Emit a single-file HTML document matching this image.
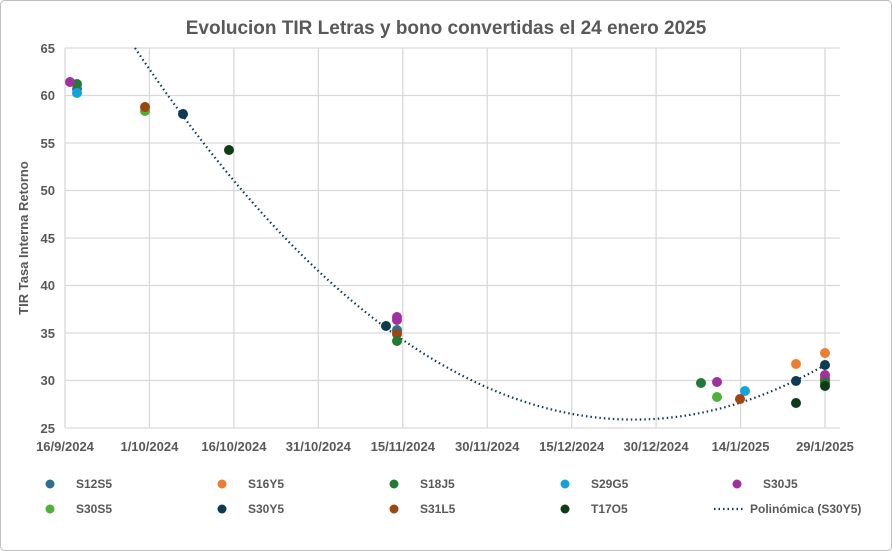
<!DOCTYPE html>
<html><head><meta charset="utf-8"><style>
html,body{margin:0;padding:0;background:#fff;}
svg{display:block;font-family:"Liberation Sans",sans-serif;}
</style></head><body>
<svg width="892" height="551" viewBox="0 0 892 551">
<rect x="0.5" y="0.5" width="891" height="550" rx="4" fill="#fff" stroke="#bfbfbf"/>
<text x="446" y="34" text-anchor="middle" font-size="19" font-weight="bold" fill="#595959">Evolucion TIR Letras y bono convertidas  el 24 enero 2025</text>
<g stroke="#d9d9d9" stroke-width="1.3">
<line x1="65" y1="48" x2="840" y2="48"/><line x1="65" y1="95.5" x2="840" y2="95.5"/><line x1="65" y1="143" x2="840" y2="143"/><line x1="65" y1="190.5" x2="840" y2="190.5"/><line x1="65" y1="238" x2="840" y2="238"/><line x1="65" y1="285.5" x2="840" y2="285.5"/><line x1="65" y1="333" x2="840" y2="333"/><line x1="65" y1="380.5" x2="840" y2="380.5"/><line x1="65" y1="428" x2="840" y2="428"/>
<line x1="65" y1="48" x2="65" y2="428"/><line x1="149.4" y1="48" x2="149.4" y2="428"/><line x1="233.9" y1="48" x2="233.9" y2="428"/><line x1="318.3" y1="48" x2="318.3" y2="428"/><line x1="402.8" y1="48" x2="402.8" y2="428"/><line x1="487.2" y1="48" x2="487.2" y2="428"/><line x1="571.7" y1="48" x2="571.7" y2="428"/><line x1="656.1" y1="48" x2="656.1" y2="428"/><line x1="740.6" y1="48" x2="740.6" y2="428"/><line x1="825" y1="48" x2="825" y2="428"/>
</g>
<g font-size="13" fill="#595959" text-anchor="end" font-weight="bold">
<text x="55" y="53">65</text><text x="55" y="100">60</text><text x="55" y="148">55</text><text x="55" y="195">50</text><text x="55" y="243">45</text><text x="55" y="290">40</text><text x="55" y="338">35</text><text x="55" y="385">30</text><text x="55" y="433">25</text>
</g>
<g font-size="13" fill="#595959" text-anchor="middle" font-weight="bold">
<text x="65" y="451">16/9/2024</text><text x="149.4" y="451">1/10/2024</text><text x="233.9" y="451">16/10/2024</text><text x="318.3" y="451">31/10/2024</text><text x="402.8" y="451">15/11/2024</text><text x="487.2" y="451">30/11/2024</text><text x="571.7" y="451">15/12/2024</text><text x="656.1" y="451">30/12/2024</text><text x="740.6" y="451">14/1/2025</text><text x="825" y="451">29/1/2025</text>
</g>
<text transform="translate(28,238) rotate(-90)" text-anchor="middle" font-size="13" font-weight="bold" fill="#595959">TIR Tasa Interna Retorno</text>
<path d="M135,48 Q480,562 825,365" fill="none" stroke="#0e3a52" stroke-width="2.2" stroke-dasharray="1.5 3"/>
<g>
<circle cx="77" cy="89" r="5" fill="#2e6e8e"/>
<circle cx="77" cy="84" r="5" fill="#217a35"/>
<circle cx="70" cy="82" r="5" fill="#a0309e"/>
<circle cx="77" cy="93" r="5" fill="#12a3de"/>
<circle cx="145" cy="111" r="5" fill="#4fb03a"/>
<circle cx="145" cy="107" r="5" fill="#9e4510"/>
<circle cx="183" cy="114" r="5" fill="#0e3a52"/>
<circle cx="229" cy="150" r="5" fill="#0d3d14"/>
<circle cx="386" cy="326" r="5" fill="#0e3a52"/>
<circle cx="397" cy="317" r="5" fill="#a0309e"/>
<circle cx="397" cy="320" r="5" fill="#a0309e"/>
<circle cx="397" cy="332" r="5" fill="#12a3de"/>
<circle cx="397" cy="330" r="5" fill="#2e6e8e"/>
<circle cx="397" cy="334" r="5" fill="#9e4510"/>
<circle cx="397" cy="341" r="5" fill="#217a35"/>
<circle cx="701" cy="383" r="5" fill="#217a35"/>
<circle cx="717" cy="382" r="5" fill="#a0309e"/>
<circle cx="717" cy="397" r="5" fill="#4fb03a"/>
<circle cx="745" cy="391" r="5" fill="#12a3de"/>
<circle cx="740" cy="399" r="5" fill="#9e4510"/>
<circle cx="796" cy="364" r="5" fill="#ed7d31"/>
<circle cx="796" cy="381" r="5" fill="#0e3a52"/>
<circle cx="796" cy="403" r="5" fill="#0d3d14"/>
<circle cx="825" cy="353" r="5" fill="#ed7d31"/>
<circle cx="825" cy="378" r="5" fill="#12a3de"/>
<circle cx="825" cy="380" r="5" fill="#9e4510"/>
<circle cx="825" cy="375" r="5" fill="#a0309e"/>
<circle cx="825" cy="383" r="5" fill="#217a35"/>
<circle cx="825" cy="386" r="5" fill="#0d3d14"/>
<circle cx="825" cy="365" r="5" fill="#0e3a52"/>
</g>
<g font-size="12" font-weight="bold" fill="#595959">
<circle cx="50" cy="484" r="4.5" fill="#2e6e8e"/><text x="76" y="488">S12S5</text>
<circle cx="222" cy="484" r="4.5" fill="#ed7d31"/><text x="248" y="488">S16Y5</text>
<circle cx="394" cy="484" r="4.5" fill="#217a35"/><text x="420" y="488">S18J5</text>
<circle cx="565" cy="484" r="4.5" fill="#12a3de"/><text x="591" y="488">S29G5</text>
<circle cx="737" cy="484" r="4.5" fill="#a0309e"/><text x="763" y="488">S30J5</text>
<circle cx="50" cy="509" r="4.5" fill="#4fb03a"/><text x="76" y="513">S30S5</text>
<circle cx="222" cy="509" r="4.5" fill="#0e3a52"/><text x="248" y="513">S30Y5</text>
<circle cx="394" cy="509" r="4.5" fill="#9e4510"/><text x="420" y="513">S31L5</text>
<circle cx="565" cy="509" r="4.5" fill="#0d3d14"/><text x="591" y="513">T17O5</text>
<line x1="714" y1="509" x2="745" y2="509" stroke="#0e3a52" stroke-width="2.2" stroke-dasharray="1.5 3"/><text x="750" y="513">Polinómica (S30Y5)</text>
</g>
</svg>
</body></html>
